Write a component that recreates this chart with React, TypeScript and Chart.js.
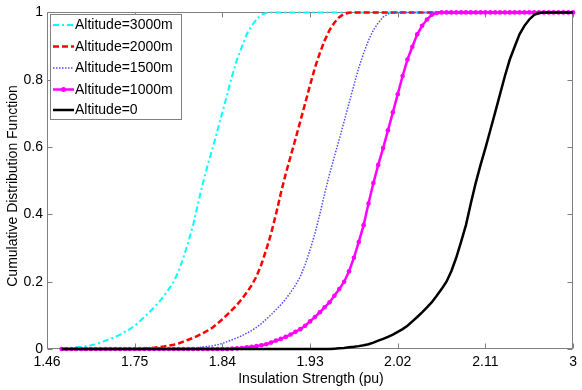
import React, { useEffect, useRef } from 'react';
import { Chart, registerables } from 'chart.js';

Chart.register(...registerables);

const FONT = "'Liberation Sans', Arial, Helvetica, sans-serif";

const seriesNames = ['Altitude=3000m', 'Altitude=2000m', 'Altitude=1500m', 'Altitude=1000m', 'Altitude=0'];

const xValues = [
  1.675, 1.68, 1.685, 1.69, 1.695, 1.7, 1.705, 1.71, 1.715, 1.72,
  1.725, 1.73, 1.735, 1.74, 1.745, 1.75, 1.755, 1.76, 1.765, 1.77,
  1.775, 1.78, 1.785, 1.79, 1.795, 1.8, 1.805, 1.81, 1.815, 1.82,
  1.825, 1.83, 1.835, 1.84, 1.845, 1.85, 1.855, 1.86, 1.865, 1.87,
  1.875, 1.88, 1.885, 1.89, 1.895, 1.9, 1.905, 1.91, 1.915, 1.92,
  1.925, 1.93, 1.935, 1.94, 1.945, 1.95, 1.955, 1.96, 1.965, 1.97,
  1.975, 1.98, 1.985, 1.99, 1.995, 2.0, 2.005, 2.01, 2.015, 2.02,
  2.025, 2.03, 2.035, 2.04, 2.045, 2.05, 2.055, 2.06, 2.065, 2.07,
  2.075, 2.08, 2.085, 2.09, 2.095, 2.1, 2.105, 2.11, 2.115, 2.12,
  2.125, 2.13, 2.135, 2.14, 2.145, 2.15, 2.155, 2.16, 2.165, 2.17,
  2.175, 2.18, 2.185, 2.19, 2.195, 2.2,
];

const alt3000 = [
  0.001, 0.002, 0.003, 0.005, 0.0065, 0.0085, 0.011, 0.014, 0.019, 0.025,
  0.03, 0.036, 0.043, 0.051, 0.059, 0.069, 0.082, 0.095, 0.109, 0.124,
  0.139, 0.158, 0.178, 0.2, 0.231, 0.271, 0.318, 0.368, 0.432, 0.493,
  0.547, 0.597, 0.65, 0.703, 0.757, 0.811, 0.86, 0.898, 0.935, 0.96,
  0.979, 0.993, 0.998, 1, 1, 1, 1, 1, 1, 1,
  1, 1, 1, 1, 1, 1, 1, 1, 1, 1,
  1, 1, 1, 1, 1, 1, 1, 1, 1, 1,
  1, 1, 1, 1, 1, 1, 1, 1, 1, 1,
  1, 1, 1, 1, 1, 1, 1, 1, 1, 1,
  1, 1, 1, 1, 1, 1, 1, 1, 1, 1,
  1, 1, 1, 1, 1, 1,
];

const alt2000 = [
  0, 0, 0, 0, 0, 0, 0, 0, 0, 0,
  0, 0, 0, 0, 0, 0, 0.0005, 0.0015, 0.0025, 0.004,
  0.0058, 0.0075, 0.0098, 0.0125, 0.0165, 0.022, 0.0275, 0.033, 0.0395, 0.047,
  0.055, 0.064, 0.0755, 0.0885, 0.102, 0.1165, 0.1315, 0.1485, 0.168, 0.189,
  0.2155, 0.251, 0.2945, 0.343, 0.4, 0.4625, 0.52, 0.572, 0.6235, 0.6765,
  0.73, 0.784, 0.8355, 0.879, 0.9165, 0.9475, 0.9695, 0.986, 0.9955, 0.999,
  1, 1, 1, 1, 1, 1, 1, 1, 1, 1,
  1, 1, 1, 1, 1, 1, 1, 1, 1, 1,
  1, 1, 1, 1, 1, 1, 1, 1, 1, 1,
  1, 1, 1, 1, 1, 1, 1, 1, 1, 1,
  1, 1, 1, 1, 1, 1,
];

const alt1500 = [
  0, 0, 0, 0, 0, 0, 0, 0, 0, 0,
  0, 0, 0, 0, 0, 0, 0, 0, 0, 0,
  0, 0, 0, 0, 0, 0.0005, 0.0015, 0.0025, 0.004, 0.0058,
  0.0075, 0.0098, 0.0125, 0.0165, 0.022, 0.0275, 0.033, 0.0395, 0.047, 0.055,
  0.064, 0.0755, 0.0885, 0.102, 0.1165, 0.1315, 0.1485, 0.168, 0.189, 0.2155,
  0.251, 0.2945, 0.343, 0.4, 0.4625, 0.52, 0.572, 0.6235, 0.6765, 0.73,
  0.784, 0.8355, 0.879, 0.9165, 0.9475, 0.9695, 0.986, 0.9955, 0.999, 1,
  1, 1, 1, 1, 1, 1, 1, 1, 1, 1,
  1, 1, 1, 1, 1, 1, 1, 1, 1, 1,
  1, 1, 1, 1, 1, 1, 1, 1, 1, 1,
  1, 1, 1, 1, 1, 1,
];

const alt1000 = [
  0, 0, 0, 0, 0, 0, 0, 0, 0, 0,
  0, 0, 0, 0, 0, 0, 0, 0, 0, 0,
  0, 0, 0, 0, 0, 0, 0, 0, 0, 0,
  0, 0, 0, 0, 0, 0.001, 0.002, 0.003, 0.005, 0.0065,
  0.0085, 0.011, 0.014, 0.019, 0.025, 0.03, 0.036, 0.043, 0.051, 0.059,
  0.069, 0.082, 0.095, 0.109, 0.124, 0.139, 0.158, 0.178, 0.2, 0.231,
  0.271, 0.318, 0.368, 0.432, 0.493, 0.547, 0.597, 0.65, 0.703, 0.757,
  0.811, 0.86, 0.898, 0.935, 0.96, 0.979, 0.993, 0.998, 1, 1,
  1, 1, 1, 1, 1, 1, 1, 1, 1, 1,
  1, 1, 1, 1, 1, 1, 1, 1, 1, 1,
  1, 1, 1, 1, 1, 1,
];

const alt0 = [
  0, 0, 0, 0, 0, 0, 0, 0, 0, 0,
  0, 0, 0, 0, 0, 0, 0, 0, 0, 0,
  0, 0, 0, 0, 0, 0, 0, 0, 0, 0,
  0, 0, 0, 0, 0, 0, 0, 0, 0, 0,
  0, 0, 0, 0, 0, 0, 0, 0, 0, 0,
  0, 0, 0, 0, 0, 0, 0.001, 0.002, 0.003, 0.005,
  0.0065, 0.0085, 0.011, 0.014, 0.019, 0.025, 0.03, 0.036, 0.043, 0.051,
  0.059, 0.069, 0.082, 0.095, 0.109, 0.124, 0.139, 0.158, 0.178, 0.2,
  0.231, 0.271, 0.318, 0.368, 0.432, 0.493, 0.547, 0.597, 0.65, 0.703,
  0.757, 0.811, 0.86, 0.898, 0.935, 0.96, 0.979, 0.993, 0.998, 1,
  1, 1, 1, 1, 1, 1,
];

const xTickValues = [1.66, 1.75, 1.84, 1.93, 2.02, 2.11, 2.2];
const xTickLabels = ['1.46', '1.75', '1.84', '1.93', '2.02', '2.11', '3'];
const yTickValues = [0, 0.2, 0.4, 0.6, 0.8, 1];
const yTickLabels = ['0', '0.2', '0.4', '0.6', '0.8', '1'];
const xTitle = 'Insulation Strength (pu)';
const yTitle = 'Cumulative Distribution Function';

type Style = { color: string; width: number; dash: number[]; marker: boolean };
const styles: Style[] = [
  { color: '#00ffff', width: 2, dash: [6, 3, 2, 3], marker: false },
  { color: '#ff0000', width: 2.5, dash: [6, 3], marker: false },
  { color: '#4d4dff', width: 1.5, dash: [1.5, 1.5], marker: false },
  { color: '#ff00ff', width: 2.5, dash: [], marker: true },
  { color: '#000000', width: 2.5, dash: [], marker: false },
];
const seriesValues = [alt3000, alt2000, alt1500, alt1000, alt0];

const framePlugin = {
  id: 'matlabFrame',
  beforeDatasetsDraw(chart: any) {
    const { ctx, chartArea: a, scales } = chart;
    ctx.save();
    ctx.strokeStyle = '#808080';
    ctx.lineWidth = 1;
    ctx.setLineDash([]);
    ctx.beginPath();
    const L = Math.round(a.left) + 0.5;
    const R = Math.round(a.right) - 0.5;
    const T = Math.round(a.top) + 0.5;
    const B = Math.round(a.bottom) - 0.5;
    ctx.rect(L, T, R - L, B - T);
    const tl = 5;
    xTickValues.forEach((v) => {
      const px = Math.round(scales.x.getPixelForValue(v)) + 0.5;
      ctx.moveTo(px, B);
      ctx.lineTo(px, B - tl);
      ctx.moveTo(px, T);
      ctx.lineTo(px, T + tl);
    });
    yTickValues.forEach((v) => {
      const py = Math.round(scales.y.getPixelForValue(v)) + 0.5;
      ctx.moveTo(L, py);
      ctx.lineTo(L + tl, py);
      ctx.moveTo(R, py);
      ctx.lineTo(R - tl, py);
    });
    ctx.stroke();
    ctx.restore();
  },
  afterDatasetsDraw(chart: any) {
    const { ctx } = chart;
    ctx.save();
    // legend box
    ctx.fillStyle = '#ffffff';
    ctx.strokeStyle = '#808080';
    ctx.lineWidth = 1;
    ctx.setLineDash([]);
    ctx.fillRect(50.5, 14.5, 131, 105);
    ctx.strokeRect(50.5, 14.5, 131, 105);
    const rows = [25, 46.5, 68, 89.5, 110];
    seriesNames.forEach((name, i) => {
      const s = styles[i];
      const y = rows[i];
      ctx.strokeStyle = s.color;
      ctx.lineWidth = s.width;
      ctx.setLineDash(s.dash);
      ctx.beginPath();
      ctx.moveTo(53, y);
      ctx.lineTo(74, y);
      ctx.stroke();
      ctx.setLineDash([]);
      if (s.marker) {
        ctx.fillStyle = s.color;
        ctx.beginPath();
        ctx.arc(63.5, y, 2.5, 0, Math.PI * 2);
        ctx.fill();
      }
      ctx.fillStyle = '#000000';
      ctx.font = `14px ${FONT}`;
      ctx.textAlign = 'left';
      ctx.textBaseline = 'middle';
      ctx.fillText(name, 75, y + 0.5);
    });
    ctx.restore();
  },
  afterDraw(chart: any) {
    const { ctx } = chart;
    ctx.save();
    ctx.fillStyle = '#000000';
    ctx.font = `14px ${FONT}`;
    ctx.textAlign = 'center';
    ctx.textBaseline = 'middle';
    ctx.fillText(xTitle, 311, 379);
    ctx.translate(13, 186);
    ctx.rotate(-Math.PI / 2);
    ctx.fillText(yTitle, 0, 0);
    ctx.restore();
  },
};

export default function App() {
  const canvasRef = useRef<HTMLCanvasElement | null>(null);

  useEffect(() => {
    const canvas = canvasRef.current;
    if (!canvas) return;
    const datasets = seriesNames.map((name, i) => {
      const s = styles[i];
      return {
        label: name,
        data: xValues.map((x, j) => ({ x, y: seriesValues[i][j] })),
        borderColor: s.color,
        backgroundColor: s.color,
        borderWidth: s.width,
        borderDash: s.dash,
        pointRadius: s.marker ? 2.3 : 0,
        pointBorderWidth: 0,
        pointBackgroundColor: s.color,
        pointHoverRadius: 0,
        tension: 0,
        fill: false,
        clip: false as any,
        order: 5 - i,
      };
    });
    const chart = new Chart(canvas, {
      type: 'line',
      data: { datasets },
      options: {
        responsive: false,
        animation: false,
        devicePixelRatio: 1,
        events: [],
        layout: { padding: { top: 11, right: 5, left: 0, bottom: 0 } },
        plugins: { legend: { display: false }, tooltip: { enabled: false } },
        scales: {
          x: {
            type: 'linear',
            min: 1.66,
            max: 2.2,
            afterBuildTicks: (s: any) => {
              s.ticks = xTickValues.map((v) => ({ value: v }));
            },
            afterFit: (s: any) => {
              s.height = 41;
            },
            ticks: {
              autoSkip: false,
              maxRotation: 0,
              padding: 5,
              color: '#000000',
              font: { family: FONT, size: 14 },
              callback: (_v: any, i: number) => xTickLabels[i],
            },
            grid: { drawOnChartArea: false, drawTicks: false },
            border: { display: false },
          },
          y: {
            type: 'linear',
            min: 0,
            max: 1,
            afterBuildTicks: (s: any) => {
              s.ticks = yTickValues.map((v) => ({ value: v }));
            },
            afterFit: (s: any) => {
              s.width = 47;
            },
            ticks: {
              padding: 4,
              color: '#000000',
              font: { family: FONT, size: 14 },
              callback: (_v: any, i: number) => yTickLabels[i],
            },
            grid: { drawOnChartArea: false, drawTicks: false },
            border: { display: false },
          },
        },
      },
      plugins: [framePlugin],
    });
    return () => chart.destroy();
  }, []);

  return (
    <div style={{ position: 'fixed', left: 0, top: 0, width: 582, height: 390, background: '#ffffff' }}>
      <canvas ref={canvasRef} width={582} height={390} style={{ display: 'block', width: 582, height: 390 }} />
    </div>
  );
}
